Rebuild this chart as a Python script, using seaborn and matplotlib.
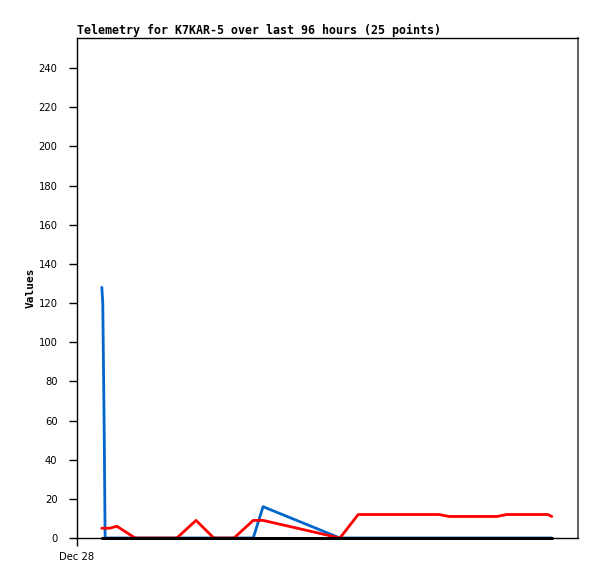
import matplotlib
matplotlib.use("Agg")
import matplotlib.pyplot as plt
import seaborn as sns
import pandas as pd

# hours since Dec 28 00:00
hours = [5.3, 5.5, 5.8, 6.0, 7.0, 8.5, 12.4, 16.9, 21.3, 25.4, 29.2, 31.3, 33.5,
         37.6, 39.7, 56.1, 60.0, 68.9, 77.2, 79.4, 83.8, 89.6, 91.7, 100.5, 101.3]
blue_vals = [128, 120, 56, 0, 0, 0, 0, 0, 0, 0, 0, 0, 0,
             0, 16, 0, 0, 0, 0, 0, 0, 0, 0, 0, 0]
red_vals = [5, 5, 5, 5, 5, 6, 0, 0, 0, 9, 0, 0, 0,
            9, 9, 0, 12, 12, 12, 11, 11, 11, 12, 12, 11]
black_vals = [0] * 25
x_tick_labels = ["Dec 28"]
y_ticks = [0, 20, 40, 60, 80, 100, 120, 140, 160, 180, 200, 220, 240]
title = "Telemetry for K7KAR-5 over last 96 hours (25 points)"

sns.set_style("white")
plt.rcParams['font.family'] = ['DejaVu Sans']
plt.rcParams['text.color'] = 'black'
plt.rcParams['axes.labelcolor'] = 'black'
plt.rcParams['xtick.color'] = 'black'
plt.rcParams['ytick.color'] = 'black'

df = pd.DataFrame({"hours": hours, "blue": blue_vals, "red": red_vals, "black": black_vals})

fig = plt.figure(figsize=(5.97, 5.79), dpi=100)
ax = fig.add_axes([77/597, 41/579, 501/597, 500/579])

sns.lineplot(data=df, x="hours", y="blue", color="#0066cc", linewidth=2.0, ax=ax, zorder=3, clip_on=False)
sns.lineplot(data=df, x="hours", y="red", color="#ff0000", linewidth=2.0, ax=ax, zorder=4, clip_on=False)
sns.lineplot(data=df, x="hours", y="black", color="#000000", linewidth=2.2, ax=ax, zorder=5, clip_on=False)

ax.set_xlim(0, 106.9)
ax.set_ylim(0, 255.4)
ax.set_yticks(y_ticks)
ax.set_yticklabels([str(v) for v in y_ticks], fontsize=7.2)
ax.set_xticks([0])
ax.set_xticklabels(x_tick_labels, fontsize=7.2)
ax.tick_params(axis='both', direction='out', length=6, width=1, color='black', pad=8, left=True, bottom=True)
ax.tick_params(axis='x', pad=4)
ax.set_xlabel("")
ax.set_ylabel("Values", fontsize=8, fontweight='bold', family='DejaVu Sans Mono', labelpad=2)
ax.set_title(title, loc='left', fontsize=8.4, fontweight='bold', family='DejaVu Sans Mono', pad=3, color='black')

for side in ['left', 'bottom', 'top']:
    ax.spines[side].set_color('black')
    ax.spines[side].set_linewidth(1)
ax.spines['right'].set_color('#444444')
ax.spines['right'].set_linewidth(1.2)

fig.savefig("out.png", dpi=100)
